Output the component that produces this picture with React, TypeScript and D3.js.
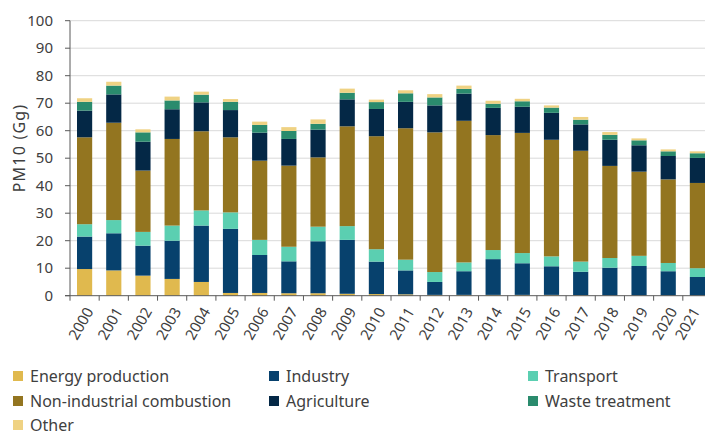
import React from 'react'
import * as d3 from 'd3'

const years = ['2000', '2001', '2002', '2003', '2004', '2005', '2006', '2007', '2008', '2009', '2010',
    '2011', '2012', '2013', '2014', '2015', '2016', '2017', '2018', '2019', '2020', '2021']

const energy = [9.7, 9.2, 7.3, 6.1, 5.0, 1.0, 1.0, 0.9, 0.9, 0.7, 0.6, 0.5, 0.3, 0.3, 0.3, 0.3, 0.3, 0.2, 0.1, 0.1, 0.1, 0.1]
const industry = [11.8, 13.5, 10.9, 13.9, 20.5, 23.3, 13.8, 11.6, 18.9, 19.6, 11.8, 8.7, 4.7, 8.6, 13.0, 11.5, 10.4, 8.5, 10.1, 10.7, 8.8, 6.7]
const transport = [4.5, 4.8, 5.0, 5.5, 5.5, 6.0, 5.5, 5.3, 5.3, 5.0, 4.5, 3.9, 3.6, 3.2, 3.3, 3.7, 3.6, 3.7, 3.5, 3.7, 3.0, 3.2]
const nonIndustrial = [31.6, 35.4, 22.3, 31.5, 28.8, 27.3, 28.8, 29.5, 25.2, 36.3, 41.1, 47.8, 50.8, 51.5, 41.8, 43.7, 42.4, 40.3, 33.5, 30.6, 30.4, 31.0]
const agriculture = [9.7, 10.3, 10.5, 10.8, 10.5, 9.9, 10.2, 9.7, 10.1, 9.8, 9.9, 9.6, 9.8, 9.9, 9.9, 9.5, 9.8, 9.6, 9.5, 9.6, 8.5, 9.1]
const waste = [3.2, 3.2, 3.4, 3.2, 2.8, 3.0, 2.8, 2.9, 2.1, 2.4, 2.5, 3.1, 2.9, 1.7, 1.5, 2.0, 1.9, 1.7, 1.8, 1.8, 1.7, 1.7]
const other = [1.3, 1.4, 1.1, 1.4, 1.1, 1.0, 1.2, 1.4, 1.6, 1.5, 0.9, 1.1, 1.2, 1.2, 1.1, 0.9, 0.8, 1.0, 1.0, 0.7, 0.7, 0.7]

const seriesNames = ['Energy production', 'Industry', 'Transport', 'Non-industrial combustion', 'Agriculture', 'Waste treatment', 'Other']
const seriesColors = ['#E0B94E', '#07416D', '#5BCFB1', '#937520', '#042846', '#2A8B6D', '#EFD283']
const yTicks = [0, 10, 20, 30, 40, 50, 60, 70, 80, 90, 100]

const W = 705
const H = 435
const FONT = '"Noto Sans", "Open Sans", sans-serif'
const TEXT = '#404040'

export default function App() {
    const allSeries = [energy, industry, transport, nonIndustrial, agriculture, waste, other]
    const rows = years.map((y, i) => {
        const r: any = { year: y }
        seriesNames.forEach((n, k) => { r[n] = allSeries[k][i] })
        return r
    })
    const stacked = d3.stack().keys(seriesNames)(rows)

    const x = d3.scaleBand().domain(years).range([70, 712]).paddingInner(0.48).paddingOuter(0.24)
    const y = d3.scaleLinear().domain([0, 100]).range([295.7, 20.7])
    const step = x.step()

    // legend in three columns, row-major
    const legendCols = [13, 269, 528]
    const legendRows = [376, 401, 425]

    return (
        <svg width={W} height={H} style={{ position: 'absolute', left: 0, top: 0, background: '#fff' }}
            fontFamily={FONT}>
            {yTicks.map(t => (
                <g key={t}>
                    {t > 0 && <line x1={70} x2={W} y1={y(t)} y2={y(t)} stroke="#D9D9D9" strokeWidth={1} />}
                    <line x1={65} x2={70} y1={y(t)} y2={y(t)} stroke="#595959" />
                    <text x={53} y={y(t)} dy="0.35em" textAnchor="end" fontSize={15} fill={TEXT}>{t}</text>
                </g>
            ))}

            {stacked.map((s, k) => (
                <g key={s.key} fill={seriesColors[k]}>
                    {s.map((d, i) => (
                        <rect key={i} x={x(years[i])} width={x.bandwidth()}
                            y={y(d[1])} height={Math.max(0, y(d[0]) - y(d[1]))} />
                    ))}
                </g>
            ))}

            <line x1={70} x2={70} y1={y(100)} y2={y(0)} stroke="#595959" />
            <line x1={65} x2={W} y1={y(0)} y2={y(0)} stroke="#595959" />
            {d3.range(years.length + 1).map(i => (
                <line key={i} x1={70 + i * step} x2={70 + i * step} y1={y(0)} y2={y(0) + 5} stroke="#595959" />
            ))}
            {years.map((yr, i) => {
                const cx = Math.min((x(yr) as number) + x.bandwidth() / 2 + 5, 696)
                return (
                    <text key={yr} transform={`translate(${cx},${y(0) + 13}) rotate(-60)`}
                        textAnchor="end" dy="0.35em" fontSize={15} fill={TEXT}>{yr}</text>
                )
            })}

            <text transform={`translate(19,148) rotate(-90)`} textAnchor="middle" dy="0.35em"
                fontSize={16} letterSpacing={1.2} fill={TEXT}>PM10 (Gg)</text>

            {seriesNames.map((n, k) => {
                const lx = legendCols[k % 3]
                const ly = legendRows[Math.floor(k / 3)]
                return (
                    <g key={n}>
                        <rect x={lx} y={ly - 5} width={10} height={10} fill={seriesColors[k]} />
                        <text x={lx + 17} y={ly} dy="0.35em" fontSize={16} fill={TEXT}>{n}</text>
                    </g>
                )
            })}
        </svg>
    )
}
